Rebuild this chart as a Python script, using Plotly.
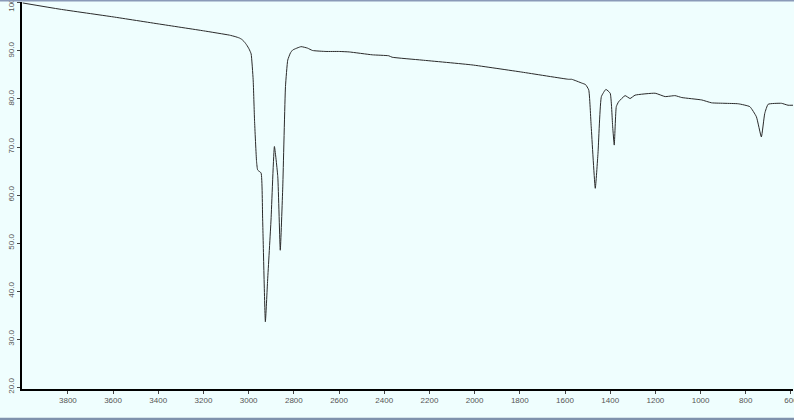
import plotly.graph_objects as go

# wavenumber (cm-1) and transmittance (%)
wavenumber = [4000, 3835, 3600, 3394, 3200, 3085, 3060, 3041, 3030, 3019, 3008, 2998, 2989,
              2980, 2974, 2965, 2960, 2945, 2938, 2926, 2916, 2901, 2886, 2871, 2860,
              2849, 2837, 2827, 2815, 2805, 2768, 2740, 2717, 2658, 2599, 2555, 2453,
              2380, 2365, 2233, 2012, 1791, 1584, 1570, 1525, 1509, 1495, 1484, 1466,
              1454, 1439, 1419, 1400, 1389, 1382, 1373, 1363, 1334, 1312, 1290, 1201,
              1157, 1113, 1083, 995, 951, 892, 833, 782, 753, 731, 716, 701, 642, 613, 590]
transmittance = [100.0, 98.7, 97.1, 95.6, 94.2, 93.3, 93.0, 92.7, 92.4, 91.9, 91.2, 90.4, 89.4,
                 84.0, 75.6, 67.0, 65.2, 64.6, 54.8, 33.6, 42.3, 54.8, 70.1, 63.8, 48.5,
                 61.7, 82.6, 88.1, 89.6, 90.2, 90.9, 90.6, 90.1, 89.9, 89.9, 89.8, 89.2,
                 89.0, 88.7, 88.1, 87.1, 85.6, 84.1, 84.1, 83.3, 83.0, 81.9, 74.2, 61.4,
                 68.7, 80.5, 82.0, 81.2, 74.2, 70.4, 78.4, 79.4, 80.7, 80.1, 80.8, 81.2,
                 80.5, 80.7, 80.3, 79.8, 79.2, 79.1, 79.0, 78.4, 76.3, 72.1, 77.0, 78.9,
                 79.1, 78.7, 78.7]

x_ticks = list(range(3800, 599, -200))
y_ticks = [20, 30, 40, 50, 60, 70, 80, 90, 100]

bg = "#effefe"

fig = go.Figure()
fig.add_trace(go.Scatter(x=wavenumber, y=transmittance, mode="lines",
                         line=dict(color="#2a2a2a", width=1, shape="spline", smoothing=0.4),
                         hoverinfo="skip"))

axis_style = dict(showgrid=False, zeroline=False, automargin=False,
                  showline=True, linecolor="black", linewidth=1.5,
                  ticks="outside", ticklen=3, tickcolor="#444", ticklabeloverflow="allow")

fig.update_layout(
    width=794, height=420,
    margin=dict(l=22, r=1, t=2, b=31),
    paper_bgcolor=bg, plot_bgcolor=bg,
    showlegend=False,
    font=dict(family="Liberation Sans, Arial, sans-serif", size=8, color="#555"),
    xaxis=dict(range=[4003, 591], tickvals=x_ticks, **axis_style),
    yaxis=dict(range=[19.6, 100.2], tickvals=y_ticks, tickformat=".1f", tickangle=-90,
               **axis_style),
)

# window frame lines
fig.add_shape(type="rect", xref="paper", yref="paper", x0=-0.03, x1=1.01,
              y0=-0.081, y1=-0.074, fillcolor="#7f92ad", line_width=0, layer="above")
fig.add_shape(type="line", xref="paper", yref="paper", x0=-0.03, x1=1.01,
              y0=1.004, y1=1.004, line=dict(color="#8a9ab8", width=2), layer="above")

fig.write_html(
    "out.html",
    config={"displayModeBar": False, "responsive": False},
    post_script=("document.body.style.margin='0';"
                 "var gd=document.getElementById('{plot_id}');"
                 "Plotly.relayout(gd,{width:794,height:420});"),
)
